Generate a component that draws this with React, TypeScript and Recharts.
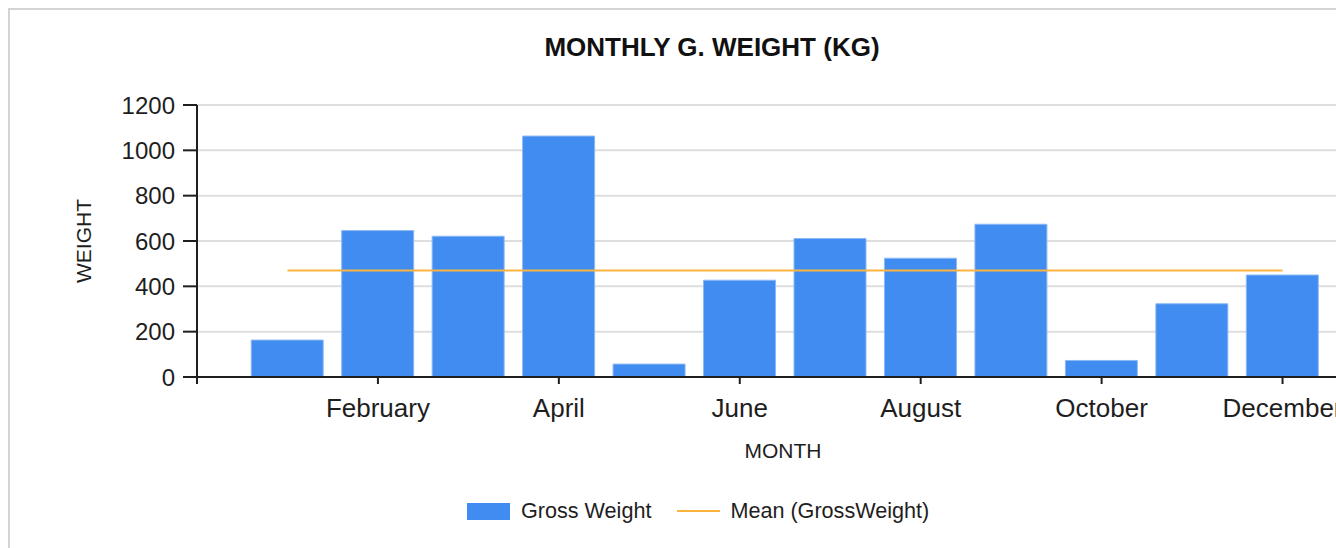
import { ComposedChart, Bar, Line, XAxis, YAxis, CartesianGrid, Legend } from 'recharts'

const months = [
  'January', 'February', 'March', 'April', 'May', 'June',
  'July', 'August', 'September', 'October', 'November', 'December',
]
const grossWeight = [163, 646, 621, 1063, 57, 427, 611, 524, 674, 73, 323, 450]
const monthTicks = [0, 2, 4, 6, 8, 10, 12]
const weightTicks = [0, 200, 400, 600, 800, 1000, 1200]

const meanWeight = grossWeight.reduce((sum, v) => sum + v, 0) / grossWeight.length

const data = months.map((month, i) => ({
  idx: i + 1,
  month,
  gross: grossWeight[i],
  mean: meanWeight,
}))

const font = "'Liberation Sans', Arial, sans-serif"
const ink = '#1e1e1e'

const renderLegend = (props: any) => {
  const { payload } = props
  return (
    <div style={{ display: 'flex', alignItems: 'center', fontFamily: font, fontSize: 21.6, color: ink }}>
      {payload.map((entry: any, i: number) => (
        <div key={i} style={{ display: 'flex', alignItems: 'center', marginRight: i === 0 ? 26 : 0 }}>
          {entry.type === 'line' ? (
            <div style={{ width: 43, height: 2.5, background: entry.color, marginRight: 10 }} />
          ) : (
            <div style={{ width: 43, height: 17, background: entry.color, marginRight: 11 }} />
          )}
          <span>{entry.value}</span>
        </div>
      ))}
    </div>
  )
}

export default function App() {
  return (
    <div style={{ width: 1328, height: 540, overflow: 'hidden' }}>
      <style>{'html{overflow:hidden} body{margin:8px 0 0 8px}'}</style>
      <div
        style={{
          position: 'relative',
          width: 1420,
          height: 600,
          border: '2px solid #d4d4d4',
          background: '#fff',
        }}
      >
        <div
          style={{
            position: 'absolute',
            left: 0,
            top: 22,
            width: 1404,
            lineHeight: '30px',
            textAlign: 'center',
            fontFamily: font,
            fontWeight: 'bold',
            fontSize: 26,
            color: '#111',
          }}
        >
          MONTHLY G. WEIGHT (KG)
        </div>
        <div
          style={{
            position: 'absolute',
            left: 74,
            top: 231,
            width: 0,
            height: 0,
          }}
        >
          <div
            style={{
              position: 'absolute',
              transform: 'translate(-50%, -50%) rotate(-90deg)',
              fontFamily: font,
              fontSize: 21,
              color: ink,
              whiteSpace: 'nowrap',
            }}
          >
            WEIGHT
          </div>
        </div>
        <div
          style={{
            position: 'absolute',
            left: 573,
            top: 426,
            width: 400,
            lineHeight: '30px',
            textAlign: 'center',
            fontFamily: font,
            fontSize: 21,
            color: ink,
          }}
        >
          MONTH
        </div>
        <div style={{ position: 'absolute', left: 0, top: 0 }}>
          <ComposedChart
            width={1400}
            height={560}
            data={data}
            margin={{ top: 95, right: 37, bottom: 133, left: 0 }}
          >
            <CartesianGrid vertical={false} stroke="#dedede" strokeWidth={2} />
            <XAxis
              type="number"
              dataKey="idx"
              domain={[0, 13]}
              ticks={monthTicks}
              interval={0}
              allowDecimals={false}
              tickFormatter={(v: number) => (v === 0 ? '' : months[v - 1])}
              height={60}
              axisLine={{ stroke: ink, strokeWidth: 2 }}
              tickLine={{ stroke: ink, strokeWidth: 2 }}
              tickSize={7}
              tickMargin={15}
              tick={{ fontSize: 26, fill: ink, fontFamily: font }}
            />
            <YAxis
              domain={[0, 1200]}
              ticks={weightTicks}
              interval={0}
              width={187}
              axisLine={{ stroke: ink, strokeWidth: 2 }}
              tickLine={{ stroke: ink, strokeWidth: 2 }}
              tickSize={14}
              tickMargin={8}
              tick={{ fontSize: 24, fill: ink, fontFamily: font }}
            />
            <Legend
              layout="horizontal"
              verticalAlign="middle"
              align="center"
              content={renderLegend}
              wrapperStyle={{ left: 457, top: 488 }}
            />
            <Bar
              dataKey="gross"
              name="Gross Weight"
              fill="#418CF0"
              stroke="#8cb9f5"
              strokeWidth={1}
              barSize={72}
              isAnimationActive={false}
            />
            <Line
              type="linear"
              dataKey="mean"
              name="Mean (GrossWeight)"
              stroke="#FCB441"
              strokeWidth={2}
              dot={false}
              activeDot={false}
              isAnimationActive={false}
            />
          </ComposedChart>
        </div>
      </div>
    </div>
  )
}
